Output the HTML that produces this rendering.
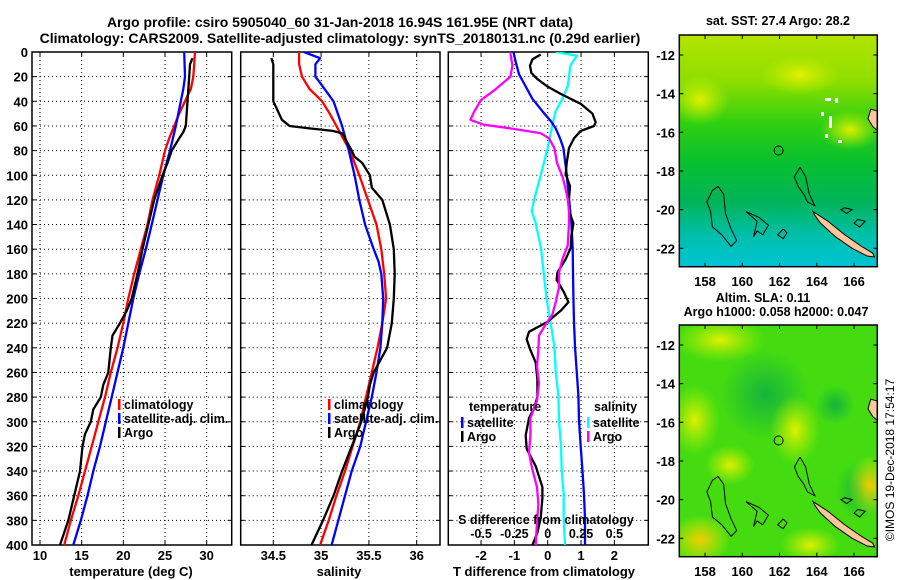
<!DOCTYPE html>
<html><head><meta charset="utf-8"><style>
html,body{margin:0;padding:0;background:#fff;}
svg{display:block;font-family:"Liberation Sans",Arial,sans-serif;font-weight:bold;}
</style></head><body>
<svg id="fig" width="900" height="580" viewBox="0 0 900 580" xmlns="http://www.w3.org/2000/svg">
<defs>
<linearGradient id="sstGrad" x1="0" y1="0" x2="0" y2="1">
<stop offset="0" stop-color="#b4e400"/><stop offset="0.2" stop-color="#8ede00"/><stop offset="0.38" stop-color="#30d010"/>
<stop offset="0.55" stop-color="#08c030"/><stop offset="0.72" stop-color="#00b458"/><stop offset="0.86" stop-color="#00bfa8"/><stop offset="1" stop-color="#00c4d4"/>
</linearGradient>
<radialGradient id="slaDark" cx="0.5" cy="0.5" r="0.5"><stop offset="0" stop-color="#10b040" stop-opacity="0.9"/><stop offset="1" stop-color="#10b040" stop-opacity="0"/></radialGradient>
<radialGradient id="slaYel" cx="0.5" cy="0.5" r="0.5"><stop offset="0" stop-color="#e8f000" stop-opacity="0.95"/><stop offset="1" stop-color="#c0f000" stop-opacity="0"/></radialGradient>
<radialGradient id="slaOr" cx="0.5" cy="0.5" r="0.5"><stop offset="0" stop-color="#f4c800" stop-opacity="1"/><stop offset="1" stop-color="#e8f000" stop-opacity="0"/></radialGradient>
<clipPath id="c1"><rect x="32" y="52" width="199" height="493"/></clipPath>
<clipPath id="c2"><rect x="240.7" y="52" width="199.3" height="493"/></clipPath>
<clipPath id="c3"><rect x="448.3" y="52" width="200" height="493"/></clipPath>
<clipPath id="cm1"><rect x="679.3" y="35" width="198" height="231.7"/></clipPath>
<clipPath id="cm2"><rect x="679.3" y="325" width="198" height="231.7"/></clipPath>
</defs>
<rect x="0" y="0" width="900" height="580" fill="#fff"/>
<text x="340" y="27" font-size="14" text-anchor="middle">Argo profile: csiro 5905040_60 31-Jan-2018 16.94S 161.95E (NRT data)</text>
<text x="340" y="43" font-size="14" text-anchor="middle">Climatology: CARS2009. Satellite-adjusted climatology: synTS_20180131.nc (0.29d earlier)</text>
<g id="g"></g>
</svg>
<script>
// ---------- data ----------
const depthTicks=[0,20,40,60,80,100,120,140,160,180,200,220,240,260,280,300,320,340,360,380,400];
const tempTicks=[10,15,20,25,30];
const salTicks=[34.5,35,35.5,36];
const tdiffTicks=[-2,-1,0,1,2];
const sdiffTicks=[-0.5,-0.25,0,0.25,0.5];
const sdiffTickLabels=["-0.5","-0.25","0","0.25","0.5"];
const lonTicks=[158,160,162,164,166];
const latTicks=[-12,-14,-16,-18,-20,-22];

const tClimDepth=[0,10,20,30,40,50,60,70,80,100,120,140,160,180,200,220,240,260,280,300,320,340,360,380,400];
const tClimVal=[28.6,28.5,28.4,28.1,27.4,26.7,26.1,25.5,25.0,24.3,23.5,22.9,22.1,21.3,20.6,20.0,19.3,18.5,17.8,17.0,16.2,15.4,14.6,13.7,12.9];
const tSatDepth=[0,20,30,40,60,80,100,120,140,160,180,200,220,240,260,280,300,320,340,360,380,400];
const tSatVal=[27.3,27.4,27.2,26.9,26.3,25.6,24.8,24.1,23.4,22.7,21.9,21.2,20.6,20.0,19.3,18.6,17.9,17.2,16.4,15.7,14.9,14.0];
const tArgoDepth=[5,10,20,40,60,65,70,80,90,100,120,140,160,180,200,210,220,230,240,260,270,280,290,300,310,320,340,360,380,400];
const tArgoVal=[28.3,28.0,27.9,27.7,27.5,27.2,26.7,25.8,25.3,24.7,23.7,23.0,22.3,21.7,21.0,20.4,19.6,18.7,18.5,18.2,17.6,17.3,16.4,16.1,15.4,15.1,14.8,14.1,13.4,12.4];

const sClimDepth=[0,10,20,30,40,50,60,70,80,100,120,140,160,180,200,220,240,260,280,300,320,340,360,380,400];
const sClimVal=[34.77,34.77,34.80,34.88,35.01,35.09,35.16,35.23,35.30,35.40,35.49,35.58,35.63,35.66,35.68,35.64,35.59,35.53,35.47,35.41,35.33,35.25,35.16,35.08,34.99];
const sSatDepth=[0,5,10,20,25,40,60,80,100,120,140,160,170,180,200,220,240,260,280,300,320,340,360,380,400];
const sSatVal=[34.82,34.99,34.94,34.94,34.99,35.13,35.22,35.29,35.35,35.40,35.46,35.55,35.60,35.63,35.65,35.64,35.62,35.58,35.53,35.47,35.41,35.32,35.25,35.18,35.11];
const sArgoDepth=[5,10,40,45,55,60,62,64,66,70,80,85,90,100,110,120,140,160,180,200,220,240,250,260,270,280,300,320,340,360,380,400];
const sArgoVal=[34.48,34.50,34.50,34.53,34.59,34.67,34.88,35.12,35.22,35.25,35.32,35.35,35.43,35.51,35.53,35.64,35.72,35.76,35.77,35.76,35.74,35.69,35.62,35.55,35.51,35.49,35.42,35.32,35.22,35.13,35.02,34.90];

const dTSatDepth=[0,8,18,28,38,48,56,62,70,78,99,119,139,159,179,199,219,239,259,279,299,320,339,359,379,400];
const dTSatVal=[-1.03,-0.96,-0.86,-0.66,-0.46,-0.16,0.09,0.24,0.37,0.47,0.57,0.64,0.71,0.75,0.76,0.77,0.79,0.82,0.87,0.92,0.94,0.99,1.04,1.09,1.12,1.12];
const dTArgoDepth=[2,6,11,17,22,28,34,42,50,57,60,64,70,78,90,99,109,119,129,139,149,159,168,179,185,195,203,210,219,227,233,241,252,266,280,289,297,311,322,336,353,362,378,390,400];
const dTArgoVal=[-0.21,-0.46,-0.53,-0.49,-0.31,-0.01,0.39,0.99,1.34,1.44,1.39,0.99,0.79,0.64,0.57,0.54,0.67,0.64,0.64,0.77,0.71,0.69,0.54,0.29,0.27,0.49,0.62,0.39,-0.01,-0.56,-0.63,-0.53,-0.36,-0.31,-0.31,-0.41,-0.56,-0.66,-0.63,-0.36,-0.16,-0.16,-0.21,-0.31,-0.46];
const dSSatDepth=[0,3,6,11,28,38,48,59,78,99,119,129,139,159,179,199,219,239,259,279,299,320,339,359,379,400];
const dSSatVal=[0.06,0.22,0.20,0.17,0.15,0.11,0.06,0.035,0,-0.05,-0.10,-0.12,-0.09,-0.05,-0.03,-0.01,0.02,0.05,0.06,0.08,0.085,0.10,0.105,0.12,0.12,0.13];
const dSArgoDepth=[1,11,20,31,39,48,55,59,62,66,70,78,90,101,109,119,129,139,157,168,179,191,203,213,221,230,241,255,269,283,297,311,325,339,353,367,381,400];
const dSArgoVal=[-0.28,-0.265,-0.28,-0.40,-0.50,-0.55,-0.58,-0.48,-0.28,-0.05,0.01,0.05,0.07,0.11,0.13,0.15,0.16,0.16,0.15,0.11,0.085,0.085,0.06,0.035,-0.015,-0.065,-0.07,-0.08,-0.065,-0.08,-0.13,-0.13,-0.14,-0.115,-0.08,-0.07,-0.08,-0.09];

const argoLon=[161.95];
const argoLat=[-16.94];

// ---------- axes ----------
const Y0=52,Y1=545;
const yD=d=>Y0+d*(Y1-Y0)/400;
const xT=t=>40+(t-10)*8.333;
const xS=s=>273.3+(s-34.5)*95.6;
const xDT=v=>547.7+v*33.33;
const xDS=v=>547.7+v*133.33;
const xLon=l=>705+(l-158)*18.63;
const yLat1=l=>55+(-12-l)*19.33;
const yLat2=l=>345+(-12-l)*19.33;

const NS='http://www.w3.org/2000/svg';
const G=document.getElementById('g');
function mk(tag,attrs,parent){const e=document.createElementNS(NS,tag);for(const k in attrs)e.setAttribute(k,attrs[k]);(parent||G).appendChild(e);return e;}
function txt(x,y,s,size,anchor,parent){const e=mk('text',{x:x,y:y,'font-size':size,'text-anchor':anchor||'middle'},parent);e.textContent=s;return e;}

function panel(x0,x1,xTicksV,xTickLab,xf,clipId,name){
  const pg=mk('g',{});
  
  
  depthTicks.forEach((d,i)=>{if(d>0&&d<400){const l=mk('line',{x1:x0,x2:x1,y1:yD(d),y2:yD(d),stroke:'#000','stroke-width':1,'stroke-dasharray':'1,3'},pg);
    
    }
    mk('line',{x1:x0,x2:x0+4,y1:yD(d),y2:yD(d),stroke:'#000'},pg);mk('line',{x1:x1-4,x2:x1,y1:yD(d),y2:yD(d),stroke:'#000'},pg);});
  xTicksV.forEach((v,i)=>{const x=xf(v);
    const l=mk('line',{x1:x,x2:x,y1:Y0,y2:Y1,stroke:'#000','stroke-width':1,'stroke-dasharray':'1,3'},pg);
    
    
    mk('line',{x1:x,x2:x,y1:Y1-4,y2:Y1,stroke:'#000'},pg);mk('line',{x1:x,x2:x,y1:Y0,y2:Y0+4,stroke:'#000'},pg);
    const t=txt(x,560,xTickLab[i],13,'middle',pg);
    
    });
  const r=mk('rect',{x:x0,y:Y0,width:x1-x0,height:Y1-Y0,fill:'none',stroke:'#000','stroke-width':1.5},pg);
  
  
  return pg;
}
function series(dep,val,xf,color,clip,name,parent){
  const pts=dep.map((d,i)=>xf(val[i]).toFixed(1)+','+yD(d).toFixed(1)).join(' ');
  const p=mk('polyline',{points:pts,fill:'none',stroke:color,'stroke-width':2.3,'stroke-linejoin':'round','clip-path':'url(#'+clip+')'},parent);
  
  
}
function legendEntry(x,y,color,label,parent,name){
  const lg=mk('g',{},parent);
  
  
  mk('rect',{x:x,y:y-8,width:2.5,height:11,fill:color},lg);
  txt(x+6,y+2,label,12.5,'start',lg);
}

// panel 1 temperature
const p1=panel(32,231.7,tempTicks,tempTicks.map(String),xT,'c1','temperature-panel');
depthTicks.forEach(d=>{const t=txt(28,yD(d)+5,String(d),13,'end',p1);
  
  });
series(tClimDepth,tClimVal,xT,'#ff0000','c1','temp-climatology-line',p1);
series(tSatDepth,tSatVal,xT,'#0000ff','c1','temp-satellite-line',p1);
series(tArgoDepth,tArgoVal,xT,'#000000','c1','temp-argo-line',p1);
legendEntry(118,407,'#ff0000','climatology',p1,'legend-climatology');
legendEntry(118,421,'#0000ff','satellite-adj. clim.',p1,'legend-satellite');
legendEntry(118,435,'#000000','Argo',p1,'legend-argo');
const xt1=txt(131,576,'temperature (deg C)',13,'middle',p1);



// panel 2 salinity
const p2=panel(240.7,440,salTicks,salTicks.map(String),xS,'c2','salinity-panel');
series(sClimDepth,sClimVal,xS,'#ff0000','c2','sal-climatology-line',p2);
series(sSatDepth,sSatVal,xS,'#0000ff','c2','sal-satellite-line',p2);
series(sArgoDepth,sArgoVal,xS,'#000000','c2','sal-argo-line',p2);
legendEntry(328,407,'#ff0000','climatology',p2,'legend-climatology-2');
legendEntry(328,421,'#0000ff','satellite-adj. clim.',p2,'legend-satellite-2');
legendEntry(328,435,'#000000','Argo',p2,'legend-argo-2');
const xt2=txt(339,576,'salinity',13,'middle',p2);



// panel 3 differences
const p3=panel(448.3,648.3,tdiffTicks,tdiffTicks.map(String),xDT,'c3','difference-panel');
series(dSSatDepth,dSSatVal,xDS,'#00ffff','c3','sal-diff-satellite-line',p3);
series(dTSatDepth,dTSatVal,xDT,'#0000ff','c3','temp-diff-satellite-line',p3);
series(dTArgoDepth,dTArgoVal,xDT,'#000000','c3','temp-diff-argo-line',p3);
series(dSArgoDepth,dSArgoVal,xDS,'#ff00ff','c3','sal-diff-argo-line',p3);
const lt=txt(469,411,'temperature',12.5,'start',p3);


legendEntry(461,425,'#0000ff','satellite',p3,'legend-temp-satellite');
legendEntry(461,439,'#000000','Argo',p3,'legend-temp-argo');
const ls=txt(594,411,'salinity',12.5,'start',p3);


legendEntry(587,425,'#00ffff','satellite',p3,'legend-sal-satellite');
legendEntry(587,439,'#ff00ff','Argo',p3,'legend-sal-argo');
const sdt=txt(546,524,'S difference from climatology',12.5,'middle',p3);


sdiffTicks.forEach((v,i)=>{const t=txt(xDS(v),538,sdiffTickLabels[i],12.5,'middle',p3);
  
  });
const xt3=txt(544,576,'T difference from climatology',13,'middle',p3);



// ---------- maps ----------
function land(mg,yLat){
  // New Caledonia
  const nc=[[163.8,-20.1],[164.6,-20.6],[165.5,-21.3],[166.4,-21.9],[167.0,-22.25],[167.1,-22.45],[166.7,-22.4],[165.9,-22.0],[165.0,-21.4],[164.2,-20.7],[163.9,-20.3]];
  const e=mk('polygon',{points:nc.map(p=>xLon(p[0])+','+yLat(p[1])).join(' '),fill:'#fcc79a',stroke:'#000','stroke-width':1},mg);
  
  
  const va=[[167.25,-14.9],[166.9,-14.8],[166.75,-15.3],[167.0,-15.7],[167.25,-15.9]];
  const v=mk('polygon',{points:va.map(p=>xLon(p[0])+','+yLat(p[1])).join(' '),fill:'#fcc79a',stroke:'#000','stroke-width':1},mg);
  
  
  const reefs=[
   [[158.7,-18.8],[159.0,-19.2],[159.1,-20.2],[159.4,-21.0],[159.7,-21.6],[159.4,-21.9],[158.9,-21.3],[158.4,-20.9],[158.3,-20.1],[158.1,-19.6],[158.4,-19.0],[158.7,-18.8]],
   [[160.2,-20.1],[160.9,-20.4],[161.4,-20.8],[161.1,-21.3],[160.8,-21.1],[160.6,-21.4],[160.8,-20.6],[160.2,-20.1]],
   [[163.1,-17.8],[163.4,-18.3],[163.6,-19.2],[163.9,-19.8],[163.5,-19.6],[163.3,-19.2],[163.0,-18.8],[162.8,-18.3],[163.1,-17.8]],
   [[162.2,-21.0],[162.4,-21.2],[162.2,-21.5],[161.9,-21.3],[162.2,-21.0]],
   [[165.5,-19.9],[165.9,-20.0],[165.6,-20.2],[165.3,-20.0],[165.5,-19.9]],
   [[166.2,-20.5],[166.6,-20.6],[166.3,-20.9],[166.0,-20.7],[166.2,-20.5]]];
  reefs.forEach(r=>{const p=mk('polyline',{points:r.map(q=>xLon(q[0])+','+yLat(q[1])).join(' '),fill:'none',stroke:'#000','stroke-width':1},mg);
    
    });
  const c=mk('circle',{cx:xLon(argoLon[0]),cy:yLat(argoLat[0]),r:4.5,fill:'none',stroke:'#000','stroke-width':1},mg);
  
  
}
function mapAxes(mg,yTop,yLat){
  mk('rect',{x:679.3,y:yTop,width:198,height:231.7,fill:'none',stroke:'#000','stroke-width':1.5},mg);
  lonTicks.forEach(l=>{const x=xLon(l);mk('line',{x1:x,x2:x,y1:yTop,y2:yTop+4,stroke:'#000'},mg);mk('line',{x1:x,x2:x,y1:yTop+231.7-4,y2:yTop+231.7,stroke:'#000'},mg);
    const t=txt(x,yTop+251,String(l),13,'middle',mg);
    
    });
  latTicks.forEach(l=>{const y=yLat(l);mk('line',{x1:679.3,x2:683.3,y1:y,y2:y,stroke:'#000'},mg);mk('line',{x1:873.3,x2:877.3,y1:y,y2:y,stroke:'#000'},mg);
    const t=txt(675,y+5,String(l),13,'end',mg);
    
    });
}
// SST map
const m1=mk('g',{});


const mb1=mk('g',{'clip-path':'url(#cm1)'},m1);
mk('rect',{x:679.3,y:35,width:198,height:231.7,fill:'url(#sstGrad)'},mb1);
mk('ellipse',{cx:700,cy:100,rx:30,ry:25,fill:'url(#slaYel)'},mb1);
mk('ellipse',{cx:800,cy:75,rx:40,ry:20,fill:'url(#slaYel)'},mb1);
mk('ellipse',{cx:850,cy:130,rx:30,ry:20,fill:'url(#slaYel)'},mb1);
[[825,98,6,3],[835,98,3,5],[821,112,3,4],[829,116,3,12],[825,134,3,4],[838,140,4,3]].forEach(r=>{mk('rect',{x:r[0],y:r[1],width:r[2],height:r[3],fill:'#fff'},mb1);});
land(mb1,yLat1);
mapAxes(m1,35,yLat1);
const st=txt(778,25,'sat. SST: 27.4 Argo: 28.2',12.5,'middle',m1);


// SLA map
const m2=mk('g',{});


const mb2=mk('g',{'clip-path':'url(#cm2)'},m2);
mk('rect',{x:679.3,y:325,width:198,height:231.7,fill:'#44dc10'},mb2);
mk('ellipse',{cx:765,cy:395,rx:45,ry:45,fill:'url(#slaDark)'},mb2);
mk('ellipse',{cx:835,cy:405,rx:20,ry:20,fill:'url(#slaDark)'},mb2);
mk('ellipse',{cx:860,cy:490,rx:25,ry:30,fill:'url(#slaDark)'},mb2);
mk('ellipse',{cx:720,cy:340,rx:45,ry:22,fill:'url(#slaYel)'},mb2);
mk('ellipse',{cx:695,cy:420,rx:25,ry:35,fill:'url(#slaYel)'},mb2);
mk('ellipse',{cx:730,cy:465,rx:25,ry:20,fill:'url(#slaYel)'},mb2);
mk('ellipse',{cx:700,cy:540,rx:30,ry:25,fill:'url(#slaOr)'},mb2);
mk('ellipse',{cx:795,cy:430,rx:25,ry:35,fill:'url(#slaYel)'},mb2);
mk('ellipse',{cx:870,cy:485,rx:22,ry:30,fill:'url(#slaOr)'},mb2);
mk('ellipse',{cx:810,cy:545,rx:30,ry:18,fill:'url(#slaYel)'},mb2);
land(mb2,yLat2);
mapAxes(m2,325,yLat2);
const s1=txt(763,302,'Altim. SLA: 0.11',12.5,'middle',m2);


const s2=txt(776,316,'Argo h1000: 0.058 h2000: 0.047',12.5,'middle',m2);


const cp=txt(0,0,'\u00a9IMOS 19-Dec-2018 17:54:17',12,'middle');
cp.setAttribute('transform','translate(894,460) rotate(-90)');
cp.setAttribute('font-weight','normal');


</script>
</body></html>
